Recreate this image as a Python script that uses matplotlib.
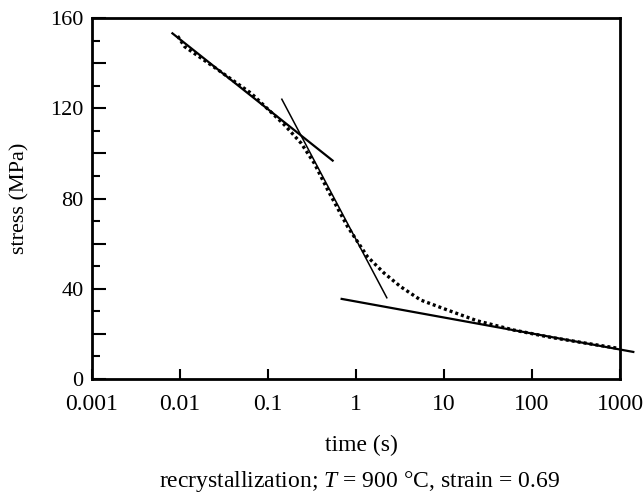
import numpy as np
import matplotlib
matplotlib.use('Agg')
import matplotlib.pyplot as plt
from matplotlib.ticker import MultipleLocator, FixedLocator, FixedFormatter

plt.rcParams['font.family'] = ['Liberation Serif', 'DejaVu Serif']
plt.rcParams['mathtext.fontset'] = 'custom'
plt.rcParams['mathtext.rm'] = 'Liberation Serif'
plt.rcParams['mathtext.it'] = 'Liberation Serif:italic'

# measured curve (dotted)
time_meas = [0.0094, 0.0113, 0.0271, 0.0645, 0.154, 0.238, 0.336, 0.477,
             0.803, 1.35, 2.09, 3.22, 5.43, 10.9, 23.8, 62, 161, 420, 918]
stress_meas = [152.0, 147.3, 137.0, 126.6, 112.6, 104.5, 95.6, 83.8,
               67.5, 54.2, 46.9, 40.9, 35.0, 30.6, 25.8, 21.7, 18.5, 15.8, 13.7]

# fitted straight lines (end points)
fit1_t = [0.0082, 0.543]
fit1_s = [153.2, 96.8]
fit2_t = [0.1436, 2.24]
fit2_s = [124.0, 36.0]
fit3_t = [0.687, 1416]
fit3_s = [35.5, 12.0]

xticks = [0.001, 0.01, 0.1, 1, 10, 100, 1000]
xticklabels = ['0.001', '0.01', '0.1', '1', '10', '100', '1000']
yticks = [0, 20, 40, 60, 80, 100, 120, 140, 160]
yticklabels = ['0', '', '40', '', '80', '', '120', '', '160']

fig = plt.figure(figsize=(6.43, 4.95), dpi=100)
ax = fig.add_axes([92/643, 1 - 379/495, (620 - 92)/643, (379 - 18)/495])

ax.plot(time_meas, stress_meas, color='black', lw=2.4, ls=(0, (0.9, 0.9)),
        dash_capstyle='butt', clip_on=False)
ax.plot(fit1_t, fit1_s, color='black', lw=1.6, clip_on=False)
ax.plot(fit2_t, fit2_s, color='black', lw=1.1, clip_on=False)
ax.plot(fit3_t, fit3_s, color='black', lw=1.6, clip_on=False)

ax.set_xscale('log')
ax.set_xlim(0.001, 1000)
ax.set_ylim(0, 160)
ax.xaxis.set_major_locator(FixedLocator(xticks))
ax.xaxis.set_major_formatter(FixedFormatter(xticklabels))
ax.xaxis.set_minor_locator(FixedLocator([]))

ax.set_yticks(yticks)
ax.set_yticklabels(yticklabels)
ax.yaxis.set_minor_locator(MultipleLocator(10))

ax.tick_params(axis='both', which='both', direction='in', width=1.5,
               top=False, right=False)
ax.tick_params(axis='y', which='major', length=10, pad=6, labelsize=16)
ax.tick_params(axis='y', which='minor', length=6)
ax.tick_params(axis='x', which='major', length=7, pad=11, labelsize=17)
for sp in ax.spines.values():
    sp.set_linewidth(2.0)

fig.text(20/643, 1 - 198/495, 'stress (MPa)', rotation=90, fontsize=16,
         ha='center', va='center')
fig.text(361/643, 1 - 445/495, 'time (s)', fontsize=17, ha='center', va='center')
fig.text(360/643, 1 - 481/495, r'recrystallization; $T$ = 900 °C, strain = 0.69',
         fontsize=17, ha='center', va='center')

fig.savefig('out.png', dpi=100)
